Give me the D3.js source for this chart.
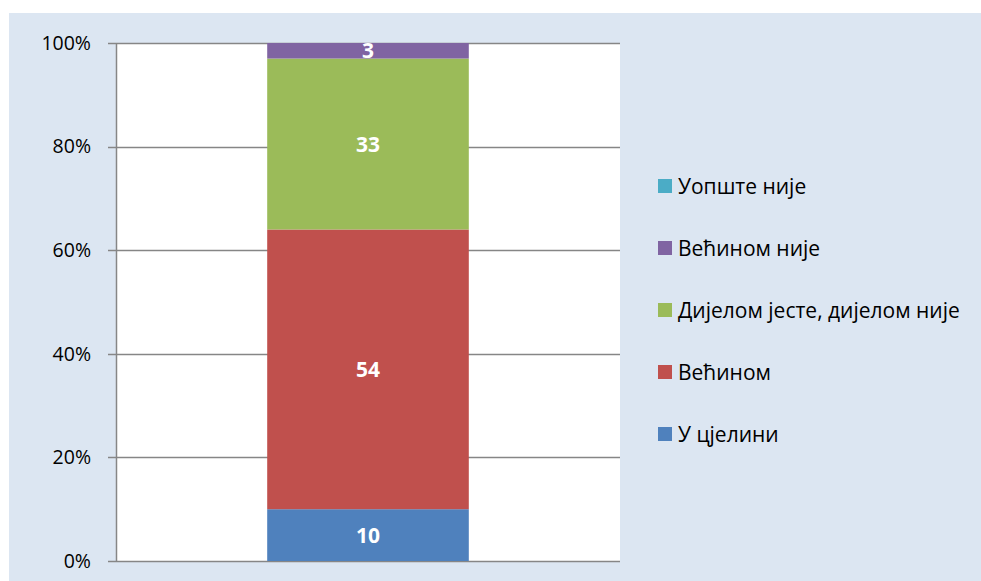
<!DOCTYPE html>
<html><head><meta charset="utf-8">
<script src="https://cdn.jsdelivr.net/npm/d3@7"></script>
<style>body{margin:0;background:#fff}svg{display:block}</style>
</head><body>
<script>
const categories = ["Укупно"];
const seriesNames = ["У цјелини", "Већином", "Дијелом јесте, дијелом није", "Већином није", "Уопште није"];
const seriesValues = [10, 54, 33, 3, 0];
const seriesColors = ["#4f81bd", "#c0504d", "#9bbb59", "#8064a2", "#4bacc6"];
const tickValues = [0, 20, 40, 60, 80, 100];

const W = 981, H = 581;
const font = "'Open Sans', 'Noto Sans', sans-serif";
const svg = d3.select("body").append("svg").attr("width", W).attr("height", H);
svg.append("rect").attr("x", 9).attr("y", 13).attr("width", W - 9).attr("height", H - 13).attr("fill", "#dce6f2");

const plot = {left: 116, right: 620, top: 43, bottom: 561};
svg.append("rect").attr("x", plot.left).attr("y", plot.top)
  .attr("width", plot.right - plot.left).attr("height", plot.bottom - plot.top).attr("fill", "#fff");

const y = d3.scaleLinear().domain([0, 100]).range([plot.bottom, plot.top]);
const x = d3.scaleBand().domain(categories).range([plot.left, plot.right]).paddingInner(0).paddingOuter(0.75);

// gridlines
svg.append("g").selectAll("line").data(tickValues).join("line")
  .attr("x1", plot.left - 8).attr("x2", plot.right)
  .attr("y1", d => Math.round(y(d)) + 0.5).attr("y2", d => Math.round(y(d)) + 0.5)
  .attr("stroke", "#868686").attr("stroke-width", 1.5);

// y axis
const yAxis = d3.axisLeft(y).tickValues(tickValues).tickFormat(d => d + "%").tickSize(0).tickPadding(25);
const ga = svg.append("g").attr("transform", `translate(${plot.left},0)`).call(yAxis);
ga.select(".domain").attr("stroke", "#868686").attr("stroke-width", 1.5);
ga.selectAll("text").attr("font-family", font).attr("font-size", 19.5).attr("fill", "#000");

// stacked bar
let cum = 0;
const stacks = seriesValues.map((v, i) => { const s = {v, i, y0: cum, y1: cum + v}; cum += v; return s; });
const bx = x(categories[0]), bw = x.bandwidth();
svg.append("g").selectAll("rect").data(stacks.filter(d => d.v > 0)).join("rect")
  .attr("x", bx).attr("width", bw)
  .attr("y", d => y(d.y1)).attr("height", d => y(d.y0) - y(d.y1))
  .attr("fill", d => seriesColors[d.i]);
svg.append("g").selectAll("text").data(stacks.filter(d => d.v > 0)).join("text")
  .attr("x", bx + bw / 2).attr("y", d => (y(d.y0) + y(d.y1)) / 2)
  .attr("dy", "0.36em").attr("text-anchor", "middle")
  .attr("font-family", font).attr("font-weight", "bold").attr("font-size", 21).attr("fill", "#fff")
  .text(d => d.v);

// legend (top to bottom reversed order)
const legendY = d3.scalePoint().domain(d3.range(seriesNames.length).reverse()).range([186, 434]);
const lg = svg.append("g").selectAll("g").data(d3.range(seriesNames.length)).join("g")
  .attr("transform", i => `translate(658,${legendY(i)})`);
lg.append("rect").attr("x", 0).attr("y", -7).attr("width", 14).attr("height", 14).attr("fill", i => seriesColors[i]);
lg.append("text").attr("x", 20).attr("y", 0).attr("dy", "0.36em")
  .attr("font-family", font).attr("font-size", 21).attr("fill", "#000").text(i => seriesNames[i]);
</script>
</body></html>
